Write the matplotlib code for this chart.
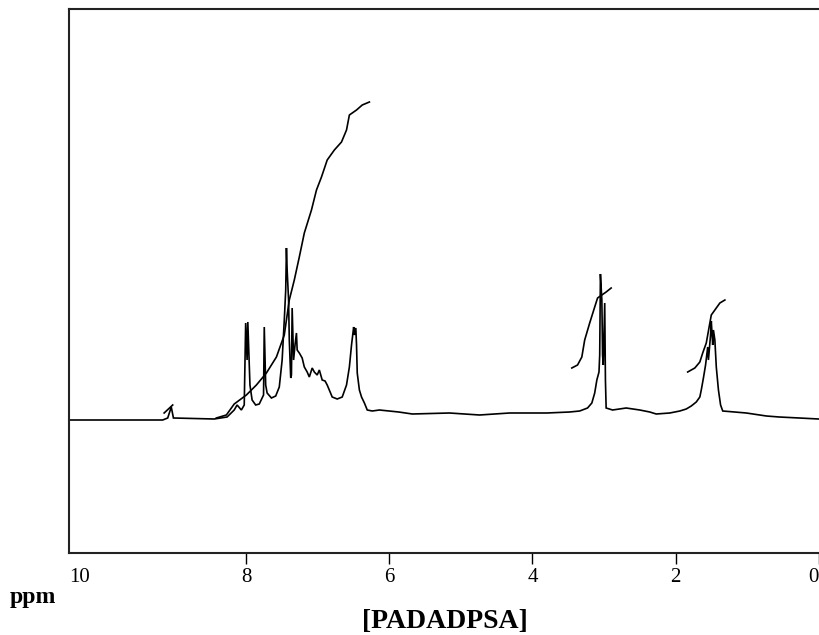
import matplotlib
matplotlib.use("Agg")
import matplotlib.pyplot as plt

# 1H NMR spectrum trace (chemical shift in ppm, intensity in arbitrary units)
spec_ppm = [10.48, 9.17, 9.10, 9.05, 9.02, 8.45, 8.27, 8.17, 8.13, 8.07, 8.03,
            8.01, 7.99, 7.98, 7.95, 7.92, 7.87, 7.82, 7.76, 7.75, 7.73, 7.71,
            7.65, 7.59, 7.54, 7.50, 7.47, 7.45, 7.44, 7.43, 7.41, 7.40, 7.38,
            7.37, 7.36, 7.34, 7.32, 7.30, 7.29, 7.26, 7.22, 7.19, 7.15, 7.12,
            7.08, 7.05, 7.01, 6.98, 6.94, 6.90, 6.87, 6.80, 6.73, 6.66, 6.60,
            6.56, 6.53, 6.50, 6.49, 6.47, 6.46, 6.45, 6.42, 6.39, 6.35, 6.31,
            6.24, 6.14, 5.87, 5.68, 5.16, 4.74, 4.32, 3.80, 3.48, 3.34, 3.23,
            3.17, 3.13, 3.10, 3.07, 3.06, 3.05, 3.03, 3.02, 3.01, 2.99, 2.98,
            2.97, 2.88, 2.69, 2.50, 2.36, 2.27, 2.08, 1.94, 1.85, 1.78, 1.71,
            1.66, 1.64, 1.61, 1.58, 1.55, 1.54, 1.51, 1.50, 1.48, 1.47, 1.45,
            1.43, 1.40, 1.37, 1.34, 1.01, 0.73, 0.55, 0.27, 0.00]
spec_int = [0, 0, 2, 13, 2, 1, 3, 10, 15, 10, 15,
            97, 60, 98, 35, 20, 15, 16, 25, 93, 35, 27,
            22, 24, 33, 60, 100, 130, 172, 150, 120, 80, 42,
            45, 112, 60, 75, 87, 70, 67, 62, 53, 48, 43,
            52, 48, 45, 50, 40, 39, 35, 23, 21, 23, 35,
            53, 75, 93, 85, 92, 75, 47, 30, 23, 17, 10,
            9, 10, 8, 6, 7, 5, 7, 7, 8, 9, 12,
            17, 27, 40, 48, 65, 146, 120, 65, 55, 117, 40,
            12, 10, 12, 10, 8, 6, 7, 9, 11, 14, 18,
            23, 30, 42, 55, 73, 60, 85, 99, 75, 90, 80,
            53, 30, 15, 9, 7, 4, 3, 2, 1]

# Integral curves
int1_ppm = [8.42, 8.28, 8.17, 8.00, 7.86, 7.72, 7.58, 7.47, 7.40, 7.33, 7.26,
            7.19, 7.09, 7.02, 6.95, 6.87, 6.77, 6.67, 6.60, 6.56, 6.46, 6.38, 6.28]
int1_val = [2, 5, 16, 25, 35, 47, 63, 85, 120, 140, 163,
            187, 210, 230, 243, 260, 270, 278, 290, 305, 310, 315, 318]
int2_ppm = [3.45, 3.37, 3.31, 3.27, 3.20, 3.13, 3.09, 3.03, 2.97, 2.90]
int2_val = [52, 55, 63, 80, 97, 113, 122, 125, 128, 132]
int3_ppm = [1.83, 1.73, 1.66, 1.62, 1.57, 1.52, 1.50, 1.45, 1.38, 1.31]
int3_val = [48, 52, 58, 67, 77, 97, 105, 110, 117, 120]
int0_ppm = [9.15, 9.03]
int0_val = [7, 15]

tick_pos = [10.48, 8, 6, 4, 2, 0]
tick_labels = ["10", "8", "6", "4", "2", "0"]

fig = plt.figure(figsize=(8.2, 6.35), dpi=100)
ax = fig.add_axes([69 / 820, (635 - 553) / 635, 1 - 69 / 820, (553 - 9) / 635])

ax.plot(spec_ppm, spec_int, color="black", lw=1.2, solid_joinstyle="miter")
for xs, ys in [(int1_ppm, int1_val), (int2_ppm, int2_val),
               (int3_ppm, int3_val), (int0_ppm, int0_val)]:
    ax.plot(xs, ys, color="black", lw=1.2)

ax.set_xlim(10.48, -0.02)
ax.set_ylim(-133, 411)
ax.set_yticks([])
ax.set_xticks(tick_pos)
labels = ax.set_xticklabels(tick_labels, family="Liberation Serif", fontsize=15)
labels[0].set_ha("left")
labels[-1].set_ha("right")
ax.tick_params(axis="x", direction="out", length=8, width=1, pad=3, colors="black")
ax.xaxis.get_major_ticks()[0].tick1line.set_visible(False)

for side in ["left", "top", "bottom"]:
    ax.spines[side].set_linewidth(1.5)
    ax.spines[side].set_color("#222222")
ax.spines["right"].set_visible(False)

fig.text(10 / 820, 1 - 598 / 635, "ppm", family="Liberation Serif",
         fontweight="bold", fontsize=17, va="center", ha="left")
fig.text(445 / 820, 1 - 621 / 635, "[PADADPSA]", family="Liberation Serif",
         fontweight="bold", fontsize=20, va="center", ha="center")

fig.savefig("out.png", dpi=100)
